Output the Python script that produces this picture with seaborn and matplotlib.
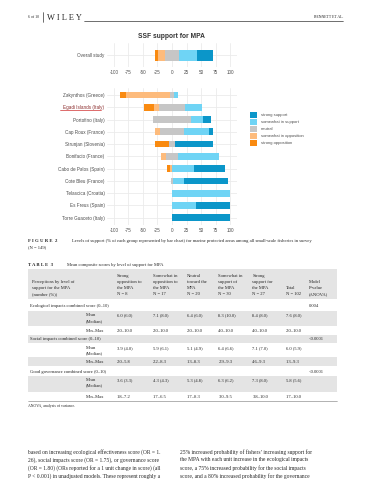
import matplotlib
matplotlib.use("Agg")
import pandas as pd
import matplotlib.pyplot as plt
import seaborn as sns
from matplotlib.patches import Patch, Rectangle

# --- data (percent of respondents per support level) ---
sites = [
    "Zakynthos (Greece)", "Egadi Islands (Italy)", "Portofino (Italy)",
    "Cap Roux (France)", "Strunjan (Slovenia)", "Bonifacio (France)",
    "Cabo de Palos (Spain)", "Cote Bleu (France)", "Telascica (Croatia)",
    "Es Freus (Spain)", "Torre Guaceto (Italy)",
]
strong_opp = [10, 16, 0, 0, 23, 0, 5, 0, 0, 0, 0]
somewhat_opp = [76, 9, 0, 7, 0, 9, 4, 0, 0, 0, 0]
neutral = [7, 45, 66, 43, 11, 21, 0, 4, 0, 0, 0]
somewhat_sup = [7, 30, 21, 43, 0, 71, 38, 19, 100, 41, 0]
strong_sup = [0, 0, 13, 7, 66, 0, 53, 76, 0, 59, 100]

overall_label = ["Overall study"]
overall_strong_opp = [5]
overall_somewhat_opp = [12]
overall_neutral = [23]
overall_somewhat_sup = [31]
overall_strong_sup = [29]

x_ticks = [-100, -75, -50, -25, 0, 25, 50, 75, 100]
levels = ["strong support", "somewhat in support", "neutral",
          "somewhat in opposition", "strong opposition"]
level_colors = ["#0b96c9", "#6fd4f5", "#c6c6c6", "#fdbb7c", "#f98a10"]
palette = dict(zip(levels, level_colors))

# table 3
col_heads = [
    ["Strong", "opposition to", "the MPA", "N = 8"],
    ["Somewhat in", "opposition to", "the MPA", "N = 17"],
    ["Neutral", "toward the", "MPA", "N = 20"],
    ["Somewhat in", "support of", "the MPA", "N = 30"],
    ["Strong", "support for", "the MPA", "N = 27"],
]
sections = [
    "Ecological impacts combined score (0\u201310)",
    "Social impacts combined score (0\u201310)",
    "Good governance combined score (0\u201310)",
]
p_values = ["0.004", "<0.0001", "<0.0001"]
means = [
    ["6.0 (6.0)", "7.1 (8.0)", "6.4 (6.0)", "8.3 (10.0)", "8.4 (8.0)", "7.6 (8.0)"],
    ["3.9 (4.0)", "5.9 (6.1)", "5.1 (4.9)", "6.4 (6.6)", "7.1 (7.0)", "6.0 (5.9)"],
    ["3.6 (3.3)", "4.3 (4.3)", "5.3 (4.8)", "6.3 (6.2)", "7.3 (8.0)", "5.8 (5.6)"],
]
ranges = [
    ["2.0\u201310.0", "2.0\u201310.0", "2.0\u201310.0", "4.0\u201310.0", "4.0\u201310.0", "2.0\u201310.0"],
    ["2.0\u20135.8", "2.2\u20138.3", "1.3\u20138.3", "2.9\u20139.3", "4.6\u20139.3", "1.3\u20139.3"],
    ["1.8\u20137.2", "1.7\u20136.5", "1.7\u20138.3", "3.0\u20139.5", "3.8\u201310.0", "1.7\u201310.0"],
]
body_left = [
    "based on increasing ecological effectiveness score (OR = 1.",
    "26), social impacts score (OR = 1.75), or governance score",
    "(OR = 1.80) (ORs reported for a 1 unit change in score) (all",
    "P < 0.001) in unadjusted models. These represent roughly a",
]
body_right = [
    "25% increased probability of fishers\u2019 increasing support for",
    "the MPA with each unit increase in the ecological impacts",
    "score, a 75% increased probability for the social impacts",
    "score, and a 80% increased probability for the governance",
]

W, H = 365, 480
SANS = "Liberation Sans"
SERIF = "Liberation Serif"
GRID = "#ebebeb"


def diverging_frame(labels, s_opp, w_opp, neu, w_sup, s_sup):
    df = pd.DataFrame({"site": labels, "s_opp": s_opp, "w_opp": w_opp,
                       "neu": neu, "w_sup": w_sup, "s_sup": s_sup})
    half = df["neu"] / 2
    df["pos_neu"] = half
    df["pos_wsup"] = half + df["w_sup"]
    df["pos_ssup"] = df["pos_wsup"] + df["s_sup"]
    df["neg_neu"] = -half
    df["neg_wopp"] = -half - df["w_opp"]
    df["neg_sopp"] = df["neg_wopp"] - df["s_opp"]
    return df


def draw_diverging(ax, df):
    # overlay cumulative bars, widest first, so each level shows as a segment
    layers = [("pos_ssup", "strong support"), ("pos_wsup", "somewhat in support"),
              ("pos_neu", "neutral"), ("neg_sopp", "strong opposition"),
              ("neg_wopp", "somewhat in opposition"), ("neg_neu", "neutral")]
    for col, lvl in layers:
        sns.barplot(data=df, x=col, y="site", orient="h", color=palette[lvl],
                    saturation=1, width=0.55, errorbar=None, linewidth=0, ax=ax)
    n = len(df)
    ax.set_xlim(-112, 112)
    ax.set_ylim(n - 1 + 0.6, -0.6)
    ax.set_xticks(x_ticks)
    ax.set_xlabel("")
    ax.set_ylabel("")
    ax.grid(True, color=GRID, linewidth=0.6)
    ax.set_axisbelow(True)
    for s in ax.spines.values():
        s.set_visible(False)
    ax.tick_params(length=0, labelsize=3.3, labelcolor="#4d4d4d", pad=1.8)
    for lab in ax.get_xticklabels() + ax.get_yticklabels():
        lab.set_fontfamily(SANS)


def box(left, top, right, bottom):
    return [left / W, 1 - bottom / H, (right - left) / W, (bottom - top) / H]


sns.set_style("whitegrid")
plt.rcParams["font.family"] = [SANS, "DejaVu Sans"]
plt.rcParams["axes.unicode_minus"] = False

fig = plt.figure(figsize=(W / 100, H / 100), dpi=100)

# page layer in pixel coordinates
page = fig.add_axes([0, 0, 1, 1], zorder=-1)
page.set_xlim(0, W)
page.set_ylim(H, 0)
page.axis("off")
page.patch.set_alpha(0)

ax_top = fig.add_axes(box(107, 43, 237, 67))
ax_bot = fig.add_axes(box(107, 87.6, 237, 225.1))

draw_diverging(ax_top, diverging_frame(overall_label, overall_strong_opp,
                                       overall_somewhat_opp, overall_neutral,
                                       overall_somewhat_sup, overall_strong_sup))
draw_diverging(ax_bot, diverging_frame(sites, strong_opp, somewhat_opp, neutral,
                                       somewhat_sup, strong_sup))

# Egadi label highlighted as in the source page
for lab in ax_bot.get_yticklabels():
    if lab.get_text().startswith("Egadi"):
        lab.set_color("#8a2a2a")
page.plot([60, 101], [109.8, 109.8], color="#d03030", lw=0.5)

page.text(171, 36.7, "SSF support for MPA", ha="center", va="center",
          fontsize=4.8, fontweight="bold", color="#333333", family=SANS)

handles = [Patch(facecolor=c, edgecolor="none") for c in level_colors]
leg = fig.legend(handles, levels, loc="upper left",
                 bbox_to_anchor=(250 / W, 1 - 112.3 / H), frameon=False,
                 fontsize=3, handlelength=1.6, handleheight=1.6,
                 handletextpad=1.0, labelspacing=0.4, borderpad=0,
                 borderaxespad=0)
for t in leg.get_texts():
    t.set_color("#4d4d4d")
    t.set_fontfamily(SANS)

# page header
page.text(28, 16.7, "6 of 10", fontsize=2.8, va="center", family=SERIF)
page.plot([43, 43], [12, 22], color="black", lw=0.4)
page.text(47, 21.7, "W I L E Y", fontsize=6, va="bottom", family=SERIF)
page.plot([84, 343], [21.3, 21.3], color="black", lw=0.4)
page.text(343, 16.7, "BENNETT ET AL.", fontsize=2.8, va="center", ha="right",
          family=SERIF)

# caption
page.text(28, 240.7, "F I G U R E  2", fontsize=3.4, va="center",
          fontweight="bold", family=SERIF)
page.text(71.7, 240.7, "Levels of support (% of each group represented by bar chart) "
          "for marine protected areas among all small-scale fisheries in survey",
          fontsize=3.3, va="center", family=SERIF)
page.text(28, 247.3, "(N = 149)", fontsize=3.3, va="center", family=SERIF)

# table 3
page.text(28, 265, "T A B L E  3", fontsize=3.4, va="center", fontweight="bold",
          family=SERIF)
page.text(66.7, 265, "Mean composite scores by level of support for MPA",
          fontsize=3.3, va="center", family=SERIF)

band = "#e4e4e4"
for top, bottom in [(269, 299), (311, 326), (335, 343), (357, 366), (376, 392)]:
    page.add_patch(Rectangle((28, top), 309, bottom - top, facecolor=band,
                             edgecolor="none"))
page.plot([28, 337], [401, 401], color="#777777", lw=0.4)

tfs = 3.3
rows_y = [275.7, 281.7, 287.7, 293.7]
col_x = [117, 152.7, 186.7, 218.3, 252.3, 285.7]
for x, lines in zip(col_x, col_heads):
    for y, txt in zip(rows_y, lines):
        page.text(x, y, txt, fontsize=tfs, va="center", family=SERIF)
for y, txt in zip(rows_y[1:], ["Perceptions by level of", "support for the MPA",
                               "(number (%))"]):
    page.text(31.7, y, txt, fontsize=tfs, va="center", family=SERIF)
for y, txt in zip(rows_y[2:], ["Total", "N = 102"]):
    page.text(285.7, y, txt, fontsize=tfs, va="center", family=SERIF)
for y, txt in zip(rows_y[1:], ["Model", "P-value", "(ANOVA)"]):
    page.text(309, y, txt, fontsize=tfs, va="center", family=SERIF)

section_y = [306, 338.7, 371.7]
mean_y = [315.3, 348, 380]
range_y = [330.7, 361.7, 396.7]
for i in range(3):
    page.text(30, section_y[i], sections[i], fontsize=tfs, va="center", family=SERIF)
    page.text(309, section_y[i], p_values[i], fontsize=tfs, va="center", family=SERIF)
    page.text(86, mean_y[i], "Mean", fontsize=tfs, va="center", family=SERIF)
    page.text(86, mean_y[i] + 5.3, "(Median)", fontsize=tfs, va="center",
              family=SERIF)
    page.text(86, range_y[i], "Min\u2013Max", fontsize=tfs, va="center", family=SERIF)
    for x, m, r in zip(col_x, means[i], ranges[i]):
        page.text(x, mean_y[i], m, fontsize=tfs, va="center", family=SERIF)
        page.text(x, range_y[i], r, fontsize=tfs, va="center", family=SERIF)

page.text(28, 406, "ANOVA, analysis of variance.", fontsize=2.8, va="center",
          family=SERIF)

body_y = [451.7, 459.7, 467.7, 475.7]
for y, l, r in zip(body_y, body_left, body_right):
    page.text(28.3, y, l, fontsize=4.0, va="center", family=SERIF)
    page.text(180, y, r, fontsize=4.0, va="center", family=SERIF)

fig.savefig("out.png", dpi=100)
plt.close(fig)
